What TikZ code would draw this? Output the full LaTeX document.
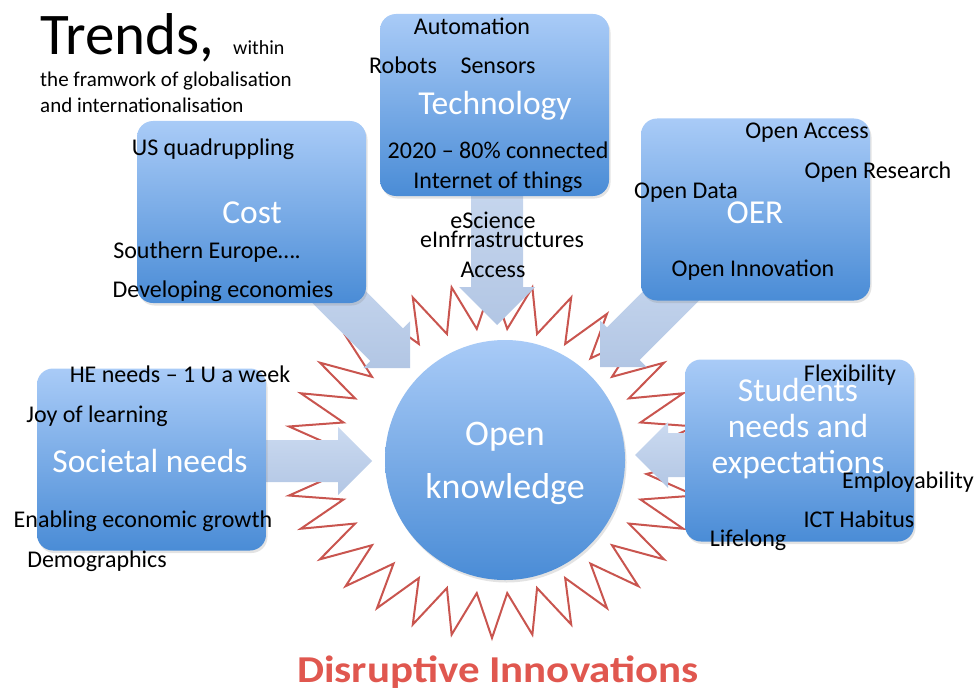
\documentclass[tikz,border=0pt]{standalone}
\usepackage{fontspec}
\setmainfont{Carlito}
\usetikzlibrary{shadows,calc}
\definecolor{boxtop}{HTML}{A9CBF7}
\definecolor{boxbot}{HTML}{4A8CD6}
\definecolor{arrtop}{HTML}{CBDAF0}
\definecolor{arrbot}{HTML}{B2C6E4}
\definecolor{starred}{HTML}{C9554F}
\definecolor{disred}{HTML}{E0574F}
\newcommand{\blockarrow}[6]{%
  \begin{scope}[shift={(#1)}, rotate=#2]
    \path[blk] (0,0) -- (-#6,#5) -- (-#6,#4) -- (-#3,#4) -- (-#3,-#4) -- (-#6,-#4) -- (-#6,-#5) -- cycle;
  \end{scope}}
\tikzset{
  box/.style={rounded corners=16pt, minimum width=229pt, minimum height=182pt,
    top color=boxtop, bottom color=boxbot, draw=none, inner sep=0pt,
    drop shadow={opacity=0.22, shadow xshift=1.5pt, shadow yshift=-2.5pt}},
  ball/.style={circle, minimum size=240pt, inner sep=0pt, top color=boxtop, bottom color=boxbot, draw=none,
    drop shadow={opacity=0.22, shadow xshift=1.5pt, shadow yshift=-2.5pt}},
  lab/.style={font=\fontsize{24}{26}\selectfont, text=black, inner sep=0pt, anchor=base},
  ttl/.style={font=\fontsize{33.5}{36}\selectfont, text=white, inner sep=0pt, anchor=base, align=center},
  blk/.style={top color=arrtop, bottom color=arrbot, draw=none},
  starline/.style={draw=starred, line width=2pt, fill=white, line join=miter},
}
\begin{document}
\begin{tikzpicture}[x=1pt,y=-1pt]
\useasboundingbox (0,0) rectangle (979,690);

% star burst
\coordinate (starc) at (492,461);
\begin{scope}[shift={(starc)}]
\draw[starline] (90:207 and 177) \foreach \k in {0,...,31}{ -- ({95.625+\k*11.25}:155.25 and 132.75) -- ({101.25+\k*11.25}:207 and 177)} -- cycle;
\end{scope}

% arrow tips
\coordinate (techtip) at (497,325);
\coordinate (costtip) at (410,368);
\coordinate (oertip) at (600,367);
\coordinate (soctip) at (372,461);
\coordinate (stutip) at (635,455);

\blockarrow{techtip}{-90}{170}{26}{38}{38}
\blockarrow{costtip}{-45}{150}{23}{33}{33}
\blockarrow{oertip}{-135}{150}{23}{33}{33}
\blockarrow{soctip}{0}{130}{21}{34}{34}
\blockarrow{stutip}{180}{70}{22}{33}{33}

% boxes
\node[box] (tech) at (494.5,105) {};
\node[box] (cost) at (251.5,212) {};
\node[box] (oer) at (755.5,209.5) {};
\node[box] (soc) at (151.5,459.5) {};
\node[box] (stu) at (799.5,450.5) {};
\node[ball] (ok) at (505,460) {};

% title
\node[inner sep=0pt, anchor=base west, font=\fontsize{59}{62}\selectfont] (trends) at (40,55) {Trends,};
\node[inner sep=0pt, anchor=base west, font=\fontsize{20}{22}\selectfont] (within) at (233,55) {within};
\node[inner sep=0pt, anchor=base west, font=\fontsize{21}{23}\selectfont] (fw1) at (40,87) {the framwork of globalisation};
\node[inner sep=0pt, anchor=base west, font=\fontsize{21}{23}\selectfont] (fw2) at (40,113) {and internationalisation};

% technology
\node[lab] (t1) at (472,35) {Automation};
\node[lab] (t2) at (403,74) {Robots};
\node[lab] (t3) at (498,74) {Sensors};
\node[ttl] (t0) at (495,115) {Technology};
\node[lab] (t4) at (498,158) {2020 – 80\% connected};
\node[lab] (t5) at (498,188) {Internet of things};
\node[lab] (t6) at (493,228) {eScience};
\node[lab] (t7) at (502,247) {eInfrrastructures};
\node[lab] (t8) at (493,277) {Access};

% cost
\node[lab] (c1) at (213,155) {US quadruppling};
\node[ttl] (c0) at (252,223) {Cost};
\node[lab] (c2) at (207,258) {Southern Europe….};
\node[lab] (c3) at (223,297) {Developing economies};

% OER
\node[lab] (o1) at (807,139) {Open Access};
\node[lab] (o2) at (878,178) {Open Research};
\node[lab] (o3) at (686,198) {Open Data};
\node[ttl] (o0) at (755,223) {OER};
\node[lab] (o4) at (753,276) {Open Innovation};

% societal
\node[lab] (s1) at (180,382) {HE needs – 1 U a week};
\node[lab] (s2) at (97,422) {Joy of learning};
\node[ttl] (s0) at (150,472) {Societal needs};
\node[lab] (s3) at (143,527) {Enabling economic growth};
\node[lab] (s4) at (97,567) {Demographics};

% students
\node[ttl] (u0) at (798,473) {Students\\needs and\\expectations};
\node[lab] (u1) at (850,381) {Flexibility};
\node[lab] (u2) at (908,488) {Employability};
\node[lab] (u3) at (859,527) {ICT Habitus};
\node[lab] (u4) at (748,546) {Lifelong};

% circle
\node[inner sep=0pt, anchor=base, align=center, text=white, font=\fontsize{36}{53}\selectfont] (k0) at (505,498) {Open\\knowledge};

% bottom
\node[inner sep=0pt, anchor=base, text=disred, font=\bfseries\fontsize{38}{40}\selectfont] (dis) at (498,682) {\scalebox{1.13}[1]{Disruptive Innovations}};
\end{tikzpicture}
\end{document}
